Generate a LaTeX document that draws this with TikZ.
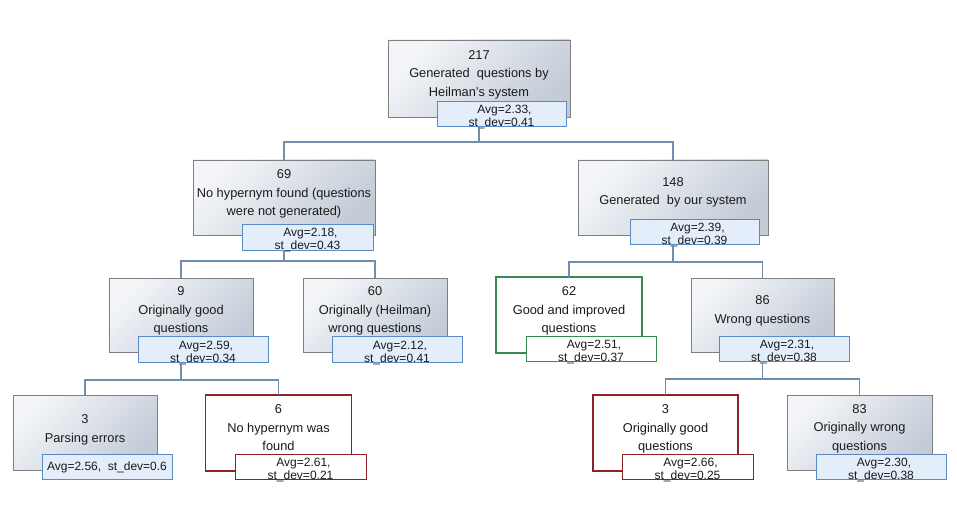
\documentclass[tikz,border=0pt]{standalone}
\usepackage{fontspec}
\setmainfont{Liberation Sans}
\definecolor{boxborder}{HTML}{7F7F7F}
\definecolor{boxlight}{HTML}{F3F5F8}
\definecolor{boxdark}{HTML}{C3CBD7}
\definecolor{lblfill}{HTML}{E4EEFA}
\definecolor{lblborder}{HTML}{5A8AC6}
\definecolor{connc}{HTML}{6F8FB0}
\definecolor{goodc}{HTML}{3A8A50}
\definecolor{badc}{HTML}{8E2125}
\definecolor{txt}{HTML}{1A1A1A}
\tikzset{
  gbox/.style={draw=boxborder, line width=0.9pt, top color=boxlight, bottom color=boxdark, shading angle=45, inner sep=0pt, outer sep=0pt},
  greenbox/.style={draw=goodc, line width=1.2pt, fill=white, inner sep=0pt, outer sep=0pt},
  redbox/.style={draw=badc, line width=1.3pt, fill=white, inner sep=0pt, outer sep=0pt},
  lbl/.style={draw=lblborder, line width=0.8pt, fill=lblfill, inner sep=0pt, outer sep=0pt},
  lblgreen/.style={lbl, draw=goodc, fill=white},
  lblred/.style={lbl, draw=badc, fill=white},
  ltext/.style={align=center, text=txt, inner sep=0pt, font=\fontsize{12}{13}\selectfont},
  mtext/.style={align=center, text=txt, inner sep=0pt, font=\fontsize{12.8}{18.5}\selectfont},
  conn/.style={draw=connc, line width=1.2pt}
}
\newcommand{\firstln}{\hspace*{6pt}}
\begin{document}
\begin{tikzpicture}[x=1pt, y=-1pt]
\useasboundingbox (0,0) rectangle (957,513);
% boxes
\node[gbox, minimum width=182pt, minimum height=77pt] (b1) at (479,78.5) {};
\node[gbox, minimum width=182pt, minimum height=75pt] (b2) at (284,197.5) {};
\node[gbox, minimum width=190pt, minimum height=75pt] (b3) at (673,197.5) {};
\node[gbox, minimum width=144pt, minimum height=74pt] (b4) at (181,315) {};
\node[gbox, minimum width=144pt, minimum height=74pt] (b5) at (375,315) {};
\node[greenbox, minimum width=146pt, minimum height=76pt] (b6) at (569,315) {};
\node[gbox, minimum width=143pt, minimum height=74pt] (b7) at (762.5,315) {};
\node[gbox, minimum width=144pt, minimum height=75pt] (b8) at (85,432.5) {};
\node[redbox, minimum width=146pt, minimum height=76pt] (b9) at (278.5,433) {};
\node[redbox, minimum width=145pt, minimum height=76pt] (b10) at (665.5,433) {};
\node[gbox, minimum width=145pt, minimum height=75pt] (b11) at (859.5,432.5) {};
% box texts
\node[mtext] (t1) at ([yshift=4pt]b1.center) {217\\Generated~ questions by\\Heilman’s system};
\node[mtext] (t2) at ([yshift=3.5pt]b2.center) {69\\No hypernym found (questions\\were not generated)};
\node[mtext] (t3) at ([yshift=5pt]b3.center) {148\\Generated~ by our system};
\node[mtext] (t4) at ([yshift=4pt]b4.center) {9\\Originally good\\questions};
\node[mtext] (t5) at ([yshift=4pt]b5.center) {60\\Originally (Heilman)\\wrong questions};
\node[mtext] (t6) at ([yshift=4pt]b6.center) {62\\Good and improved\\questions};
\node[mtext] (t7) at ([yshift=4pt]b7.center) {86\\Wrong questions};
\node[mtext] (t8) at ([yshift=2.5pt]b8.center) {3\\Parsing errors};
\node[mtext] (t9) at ([yshift=5pt]b9.center) {6\\No hypernym was\\found};
\node[mtext] (t10) at ([yshift=4pt]b10.center) {3\\Originally good\\questions};
\node[mtext] (t11) at ([yshift=4pt]b11.center) {83\\Originally wrong\\questions};
% label boxes
\node[lbl, minimum width=129pt, minimum height=25pt] (l1) at (501.5,113.5) {};
\node[lbl, minimum width=131pt, minimum height=26pt] (l2) at (307.5,237) {};
\node[lbl, minimum width=129pt, minimum height=25pt] (l3) at (694.5,231.5) {};
\node[lbl, minimum width=130pt, minimum height=26pt] (l4) at (203,349) {};
\node[lbl, minimum width=130pt, minimum height=26pt] (l5) at (397,349) {};
\node[lblgreen, minimum width=130pt, minimum height=25pt] (l6) at (591,348.5) {};
\node[lbl, minimum width=130pt, minimum height=25pt] (l7) at (784,348.5) {};
\node[lbl, minimum width=130pt, minimum height=25pt] (l8) at (107,466.5) {};
\node[lblred, minimum width=131pt, minimum height=25pt] (l9) at (300.5,466.5) {};
\node[lblred, minimum width=131pt, minimum height=25pt] (l10) at (687.5,466.5) {};
\node[lbl, minimum width=130pt, minimum height=25pt] (l11) at (881,466.5) {};
% label texts
\node[ltext] (lt1) at ([yshift=-3.5pt]l1.center) {\firstln Avg=2.33,\\st\_dev=0.41};
\node[ltext] (lt2) at ([yshift=-3.5pt]l2.center) {\firstln Avg=2.18,\\st\_dev=0.43};
\node[ltext] (lt3) at ([yshift=-3.5pt]l3.center) {\firstln Avg=2.39,\\st\_dev=0.39};
\node[ltext] (lt4) at ([yshift=-3.5pt]l4.center) {\firstln Avg=2.59,\\st\_dev=0.34};
\node[ltext] (lt5) at ([yshift=-3.5pt]l5.center) {\firstln Avg=2.12,\\st\_dev=0.41};
\node[ltext] (lt6) at ([yshift=-3.5pt]l6.center) {\firstln Avg=2.51,\\st\_dev=0.37};
\node[ltext] (lt7) at ([yshift=-3.5pt]l7.center) {\firstln Avg=2.31,\\st\_dev=0.38};
\node[ltext] (lt8) at ([yshift=-1pt]l8.center) {Avg=2.56,~ st\_dev=0.6};
\node[ltext] (lt9) at ([yshift=-3.5pt]l9.center) {\firstln Avg=2.61,\\st\_dev=0.21};
\node[ltext] (lt10) at ([yshift=-3.5pt]l10.center) {\firstln Avg=2.66,\\st\_dev=0.25};
\node[ltext] (lt11) at ([yshift=-3.5pt]l11.center) {\firstln Avg=2.30,\\st\_dev=0.38};
% connectors
\draw[conn] (b1.center |- l1.south) -- ++(0,16) coordinate (j1);
\draw[conn] (j1) -| (b2.north);
\draw[conn] (j1) -| (b3.north);
\draw[conn] (b2.center |- l2.south) -- ++(0,11) coordinate (j2);
\draw[conn] (j2) -| (b4.north);
\draw[conn] (j2) -| (b5.north);
\draw[conn] (b3.center |- l3.south) -- ++(0,18) coordinate (j3);
\draw[conn] (j3) -| (b6.north);
\draw[conn] (j3) -| (b7.north);
\draw[conn] (b4.center |- l4.south) -- ++(0,18) coordinate (j4);
\draw[conn] (j4) -| (b8.north);
\draw[conn] (j4) -| (b9.north);
\draw[conn] (b7.center |- l7.south) -- ++(0,18) coordinate (j7);
\draw[conn] (j7) -| (b10.north);
\draw[conn] (j7) -| (b11.north);
\end{tikzpicture}
\end{document}
